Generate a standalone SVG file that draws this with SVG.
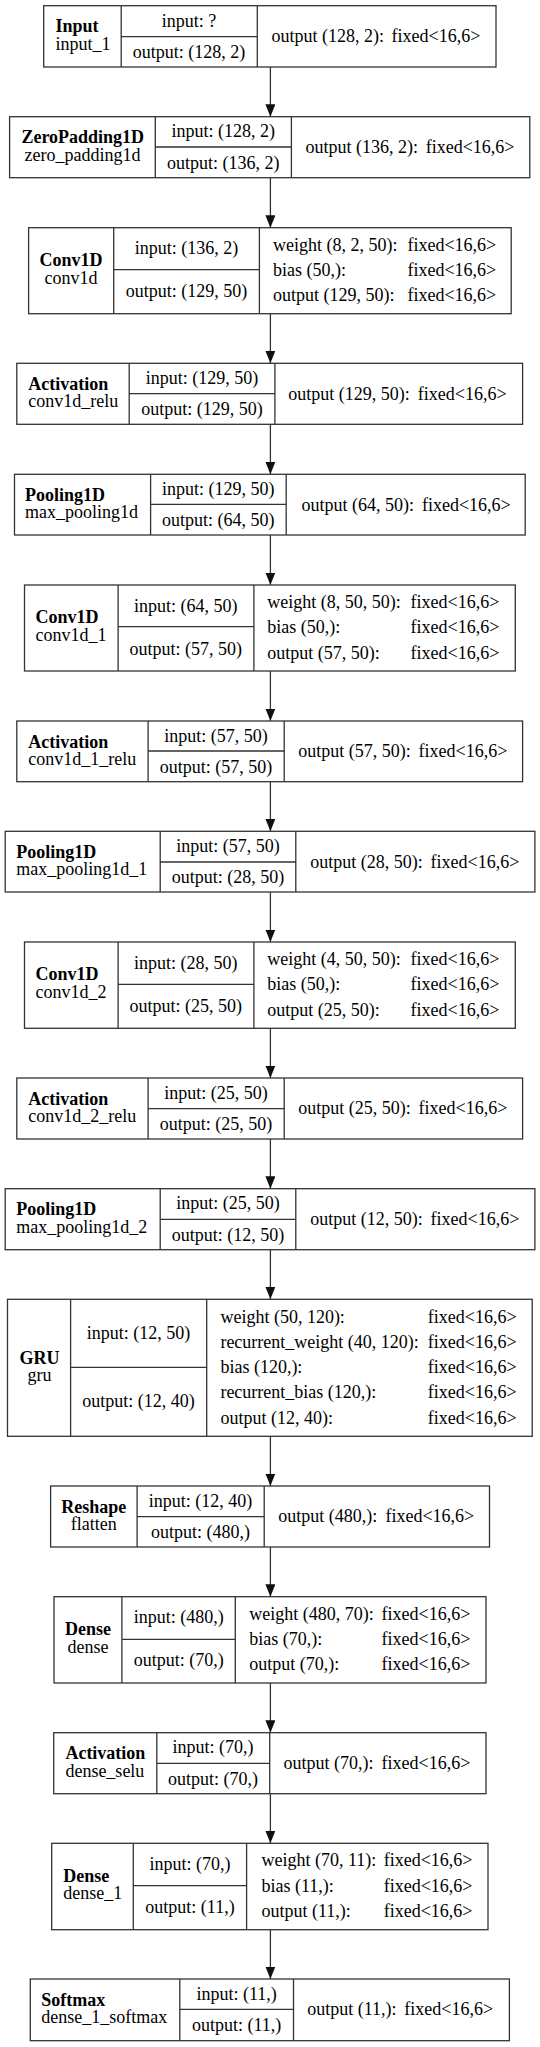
<svg xmlns="http://www.w3.org/2000/svg" width="540" height="2047" viewBox="0 0 540 2047">
<style>
.bx{fill:none;stroke:#333;stroke-width:1.3}
.t{font-family:"Liberation Serif","Times New Roman",serif;font-size:18px;fill:#000}
.b{font-weight:bold}
.c{text-anchor:middle}
.e{stroke:#333;stroke-width:1.3;fill:none}
</style>
<defs>
<marker id="ah" markerWidth="13" markerHeight="10" refX="12.5" refY="5" orient="auto" markerUnits="userSpaceOnUse">
<path d="M0,0 L12.5,5 L0,10 z" fill="#111"/>
</marker>
</defs>
<rect x="0" y="0" width="540" height="2047" fill="#fff"/>

<g id="connectors">
<line class="e" x1="270.4" y1="67" x2="270.4" y2="116.7" marker-end="url(#ah)"/>
<line class="e" x1="270.4" y1="177.7" x2="270.4" y2="227.7" marker-end="url(#ah)"/>
<line class="e" x1="270.4" y1="313.7" x2="270.4" y2="363.3" marker-end="url(#ah)"/>
<line class="e" x1="270.4" y1="424.3" x2="270.4" y2="474.3" marker-end="url(#ah)"/>
<line class="e" x1="270.4" y1="535" x2="270.4" y2="585" marker-end="url(#ah)"/>
<line class="e" x1="270.4" y1="671" x2="270.4" y2="721" marker-end="url(#ah)"/>
<line class="e" x1="270.4" y1="781.7" x2="270.4" y2="831.3" marker-end="url(#ah)"/>
<line class="e" x1="270.4" y1="892" x2="270.4" y2="942" marker-end="url(#ah)"/>
<line class="e" x1="270.4" y1="1028.3" x2="270.4" y2="1078" marker-end="url(#ah)"/>
<line class="e" x1="270.4" y1="1139" x2="270.4" y2="1188.7" marker-end="url(#ah)"/>
<line class="e" x1="270.4" y1="1249.7" x2="270.4" y2="1299.3" marker-end="url(#ah)"/>
<line class="e" x1="270.4" y1="1436.3" x2="270.4" y2="1486" marker-end="url(#ah)"/>
<line class="e" x1="270.4" y1="1547" x2="270.4" y2="1596.7" marker-end="url(#ah)"/>
<line class="e" x1="270.4" y1="1683" x2="270.4" y2="1732.7" marker-end="url(#ah)"/>
<line class="e" x1="270.4" y1="1793.7" x2="270.4" y2="1843.3" marker-end="url(#ah)"/>
<line class="e" x1="270.4" y1="1929.7" x2="270.4" y2="1979" marker-end="url(#ah)"/>
</g>

<g id="input_1">
<rect class="bx" x="43.7" y="5.7" width="452.3" height="61.3"/>
<path class="bx" d="M121.2,5.7V67M257.3,5.7V67M121.2,36.7H257.3"/>
<text class="t b" x="55.5" y="32.3">Input</text>
<text class="t" x="55.5" y="50">input_1</text>
<text class="t c" x="189.1" y="26.5">input: ?</text>
<text class="t c" x="189.1" y="57.7">output: (128, 2)</text>
<text class="t" x="271.4" y="42">output (128, 2):</text>
<text class="t" x="391.6" y="42">fixed&lt;16,6&gt;</text>
</g>

<g id="zero_padding1d">
<rect class="bx" x="9.6" y="116.7" width="520.2" height="61"/>
<path class="bx" d="M155.3,116.7V177.7M291.4,116.7V177.7M155.3,147H291.4"/>
<text class="t b" x="21.4" y="143.2">ZeroPadding1D</text>
<text class="t c" x="82.5" y="160.8">zero_padding1d</text>
<text class="t c" x="223.2" y="137.4">input: (128, 2)</text>
<text class="t c" x="223.2" y="168.5">output: (136, 2)</text>
<text class="t" x="305.6" y="153">output (136, 2):</text>
<text class="t" x="425.7" y="153">fixed&lt;16,6&gt;</text>
</g>

<g id="conv1d">
<rect class="bx" x="28.6" y="227.7" width="482.6" height="86"/>
<path class="bx" d="M113.7,227.7V313.7M259.4,227.7V313.7M113.7,269.7H259.4"/>
<text class="t b c" x="71.1" y="266">Conv1D</text>
<text class="t c" x="71.1" y="283.6">conv1d</text>
<text class="t c" x="186.5" y="254.3">input: (136, 2)</text>
<text class="t c" x="186.5" y="297.3">output: (129, 50)</text>
<text class="t" x="273.1" y="250.6">weight (8, 2, 50):</text>
<text class="t" x="273.1" y="275.8">bias (50,):</text>
<text class="t" x="273.1" y="301.2">output (129, 50):</text>
<text class="t" x="407.4" y="250.6">fixed&lt;16,6&gt;</text>
<text class="t" x="407.4" y="275.8">fixed&lt;16,6&gt;</text>
<text class="t" x="407.4" y="301.2">fixed&lt;16,6&gt;</text>
</g>

<g id="conv1d_relu">
<rect class="bx" x="16.8" y="363.3" width="505.8" height="61"/>
<path class="bx" d="M129.2,363.3V424.3M274.9,363.3V424.3M129.2,393.7H274.9"/>
<text class="t b" x="28.2" y="389.9">Activation</text>
<text class="t" x="28.2" y="407.4">conv1d_relu</text>
<text class="t c" x="202" y="384">input: (129, 50)</text>
<text class="t c" x="202" y="415.1">output: (129, 50)</text>
<text class="t" x="288.3" y="399.6">output (129, 50):</text>
<text class="t" x="417.8" y="399.6">fixed&lt;16,6&gt;</text>
</g>

<g id="max_pooling1d">
<rect class="bx" x="14.5" y="474.3" width="510.7" height="60.7"/>
<path class="bx" d="M150.6,474.3V535M286.2,474.3V535M150.6,504.3H286.2"/>
<text class="t b" x="25.1" y="500.9">Pooling1D</text>
<text class="t" x="25.1" y="518.4">max_pooling1d</text>
<text class="t c" x="218.3" y="495">input: (129, 50)</text>
<text class="t c" x="218.3" y="526.1">output: (64, 50)</text>
<text class="t" x="301.4" y="510.6">output (64, 50):</text>
<text class="t" x="421.9" y="510.6">fixed&lt;16,6&gt;</text>
</g>

<g id="conv1d_1">
<rect class="bx" x="24.5" y="585" width="490.8" height="86"/>
<path class="bx" d="M118.1,585V671M253.9,585V671M118.1,626.7H253.9"/>
<text class="t b" x="35.4" y="623.3">Conv1D</text>
<text class="t" x="35.4" y="640.9">conv1d_1</text>
<text class="t c" x="185.8" y="611.6">input: (64, 50)</text>
<text class="t c" x="185.8" y="654.6">output: (57, 50)</text>
<text class="t" x="267.3" y="608">weight (8, 50, 50):</text>
<text class="t" x="267.3" y="633.1">bias (50,):</text>
<text class="t" x="267.3" y="658.5">output (57, 50):</text>
<text class="t" x="410.5" y="608">fixed&lt;16,6&gt;</text>
<text class="t" x="410.5" y="633.1">fixed&lt;16,6&gt;</text>
<text class="t" x="410.5" y="658.5">fixed&lt;16,6&gt;</text>
</g>

<g id="conv1d_1_relu">
<rect class="bx" x="16.8" y="721" width="505.8" height="60.7"/>
<path class="bx" d="M148.1,721V781.7M284.2,721V781.7M148.1,751H284.2"/>
<text class="t b" x="28.2" y="747.6">Activation</text>
<text class="t" x="28.2" y="765.1">conv1d_1_relu</text>
<text class="t c" x="216" y="741.7">input: (57, 50)</text>
<text class="t c" x="216" y="772.8">output: (57, 50)</text>
<text class="t" x="298.3" y="757.3">output (57, 50):</text>
<text class="t" x="418.5" y="757.3">fixed&lt;16,6&gt;</text>
</g>

<g id="max_pooling1d_1">
<rect class="bx" x="5.2" y="831.3" width="529.7" height="60.7"/>
<path class="bx" d="M160.2,831.3V892M295.8,831.3V892M160.2,862H295.8"/>
<text class="t b" x="16.2" y="857.9">Pooling1D</text>
<text class="t" x="16.2" y="875.4">max_pooling1d_1</text>
<text class="t c" x="228.1" y="852">input: (57, 50)</text>
<text class="t c" x="228.1" y="883.1">output: (28, 50)</text>
<text class="t" x="310.3" y="867.6">output (28, 50):</text>
<text class="t" x="430.6" y="867.6">fixed&lt;16,6&gt;</text>
</g>

<g id="conv1d_2">
<rect class="bx" x="24.5" y="942" width="490.8" height="86.3"/>
<path class="bx" d="M118.1,942V1028.3M253.9,942V1028.3M118.1,984.3H253.9"/>
<text class="t b" x="35.4" y="980.3">Conv1D</text>
<text class="t" x="35.4" y="997.9">conv1d_2</text>
<text class="t c" x="185.8" y="968.6">input: (28, 50)</text>
<text class="t c" x="185.8" y="1011.6">output: (25, 50)</text>
<text class="t" x="267.3" y="965">weight (4, 50, 50):</text>
<text class="t" x="267.3" y="990.1">bias (50,):</text>
<text class="t" x="267.3" y="1015.5">output (25, 50):</text>
<text class="t" x="410.5" y="965">fixed&lt;16,6&gt;</text>
<text class="t" x="410.5" y="990.1">fixed&lt;16,6&gt;</text>
<text class="t" x="410.5" y="1015.5">fixed&lt;16,6&gt;</text>
</g>

<g id="conv1d_2_relu">
<rect class="bx" x="16.8" y="1078" width="505.8" height="61"/>
<path class="bx" d="M148.1,1078V1139M284.2,1078V1139M148.1,1108.7H284.2"/>
<text class="t b" x="28.2" y="1104.6">Activation</text>
<text class="t" x="28.2" y="1122.1">conv1d_2_relu</text>
<text class="t c" x="216" y="1098.7">input: (25, 50)</text>
<text class="t c" x="216" y="1129.8">output: (25, 50)</text>
<text class="t" x="298.3" y="1114.3">output (25, 50):</text>
<text class="t" x="418.5" y="1114.3">fixed&lt;16,6&gt;</text>
</g>

<g id="max_pooling1d_2">
<rect class="bx" x="5.2" y="1188.7" width="529.7" height="61"/>
<path class="bx" d="M160.2,1188.7V1249.7M295.8,1188.7V1249.7M160.2,1219.3H295.8"/>
<text class="t b" x="16.2" y="1215.3">Pooling1D</text>
<text class="t" x="16.2" y="1232.8">max_pooling1d_2</text>
<text class="t c" x="228.1" y="1209.4">input: (25, 50)</text>
<text class="t c" x="228.1" y="1240.5">output: (12, 50)</text>
<text class="t" x="310.3" y="1225">output (12, 50):</text>
<text class="t" x="430.6" y="1225">fixed&lt;16,6&gt;</text>
</g>

<g id="gru">
<rect class="bx" x="7.5" y="1299.3" width="524.7" height="137"/>
<path class="bx" d="M70.6,1299.3V1436.3M206.7,1299.3V1436.3M70.6,1367.3H206.7"/>
<text class="t b c" x="39.5" y="1363.8">GRU</text>
<text class="t c" x="39.5" y="1381.4">gru</text>
<text class="t c" x="138.5" y="1338.9">input: (12, 50)</text>
<text class="t c" x="138.5" y="1407.3">output: (12, 40)</text>
<text class="t" x="220.4" y="1322.5">weight (50, 120):</text>
<text class="t" x="220.4" y="1347.8">recurrent_weight (40, 120):</text>
<text class="t" x="220.4" y="1373.1">bias (120,):</text>
<text class="t" x="220.4" y="1398.4">recurrent_bias (120,):</text>
<text class="t" x="220.4" y="1423.7">output (12, 40):</text>
<text class="t" x="427.8" y="1322.5">fixed&lt;16,6&gt;</text>
<text class="t" x="427.8" y="1347.8">fixed&lt;16,6&gt;</text>
<text class="t" x="427.8" y="1373.1">fixed&lt;16,6&gt;</text>
<text class="t" x="427.8" y="1398.4">fixed&lt;16,6&gt;</text>
<text class="t" x="427.8" y="1423.7">fixed&lt;16,6&gt;</text>
</g>

<g id="flatten">
<rect class="bx" x="50.6" y="1486" width="438.9" height="61"/>
<path class="bx" d="M137.1,1486V1547M264.2,1486V1547M137.1,1516.7H264.2"/>
<text class="t b c" x="93.8" y="1512.6">Reshape</text>
<text class="t c" x="93.8" y="1530.1">flatten</text>
<text class="t c" x="200.5" y="1506.7">input: (12, 40)</text>
<text class="t c" x="200.5" y="1537.8">output: (480,)</text>
<text class="t" x="278.3" y="1522.3">output (480,):</text>
<text class="t" x="385.4" y="1522.3">fixed&lt;16,6&gt;</text>
</g>

<g id="dense">
<rect class="bx" x="54" y="1596.7" width="432" height="86.3"/>
<path class="bx" d="M121.9,1596.7V1683M235.3,1596.7V1683M121.9,1639.3H235.3"/>
<text class="t b c" x="88" y="1635">Dense</text>
<text class="t c" x="88" y="1652.6">dense</text>
<text class="t c" x="178.7" y="1623.3">input: (480,)</text>
<text class="t c" x="178.7" y="1666.3">output: (70,)</text>
<text class="t" x="249.3" y="1619.7">weight (480, 70):</text>
<text class="t" x="249.3" y="1644.8">bias (70,):</text>
<text class="t" x="249.3" y="1670.2">output (70,):</text>
<text class="t" x="381.6" y="1619.7">fixed&lt;16,6&gt;</text>
<text class="t" x="381.6" y="1644.8">fixed&lt;16,6&gt;</text>
<text class="t" x="381.6" y="1670.2">fixed&lt;16,6&gt;</text>
</g>

<g id="dense_selu">
<rect class="bx" x="53.7" y="1732.7" width="432.3" height="61"/>
<path class="bx" d="M156.8,1732.7V1793.7M269.7,1732.7V1793.7M156.8,1763.3H269.7"/>
<text class="t b" x="65.4" y="1759.3">Activation</text>
<text class="t" x="65.4" y="1776.8">dense_selu</text>
<text class="t c" x="212.9" y="1753.4">input: (70,)</text>
<text class="t c" x="212.9" y="1784.5">output: (70,)</text>
<text class="t" x="283.4" y="1769">output (70,):</text>
<text class="t" x="381.6" y="1769">fixed&lt;16,6&gt;</text>
</g>

<g id="dense_1">
<rect class="bx" x="51.7" y="1843.3" width="436.3" height="86.4"/>
<path class="bx" d="M133.3,1843.3V1929.7M246.6,1843.3V1929.7M133.3,1885.7H246.6"/>
<text class="t b" x="63.3" y="1881.6">Dense</text>
<text class="t" x="63.3" y="1899.2">dense_1</text>
<text class="t c" x="190" y="1869.9">input: (70,)</text>
<text class="t c" x="190" y="1912.9">output: (11,)</text>
<text class="t" x="261.4" y="1866.4">weight (70, 11):</text>
<text class="t" x="261.4" y="1891.5">bias (11,):</text>
<text class="t" x="261.4" y="1916.8">output (11,):</text>
<text class="t" x="383.7" y="1866.4">fixed&lt;16,6&gt;</text>
<text class="t" x="383.7" y="1891.5">fixed&lt;16,6&gt;</text>
<text class="t" x="383.7" y="1916.8">fixed&lt;16,6&gt;</text>
</g>

<g id="dense_1_softmax">
<rect class="bx" x="30.3" y="1979" width="479.1" height="61.7"/>
<path class="bx" d="M179.8,1979V2040.7M293.5,1979V2040.7M179.8,2009.3H293.5"/>
<text class="t b" x="41.3" y="2005.6">Softmax</text>
<text class="t" x="41.3" y="2023.1">dense_1_softmax</text>
<text class="t c" x="236.6" y="1999.7">input: (11,)</text>
<text class="t c" x="236.6" y="2030.8">output: (11,)</text>
<text class="t" x="307.2" y="2015.3">output (11,):</text>
<text class="t" x="404.3" y="2015.3">fixed&lt;16,6&gt;</text>
</g>
</svg>
